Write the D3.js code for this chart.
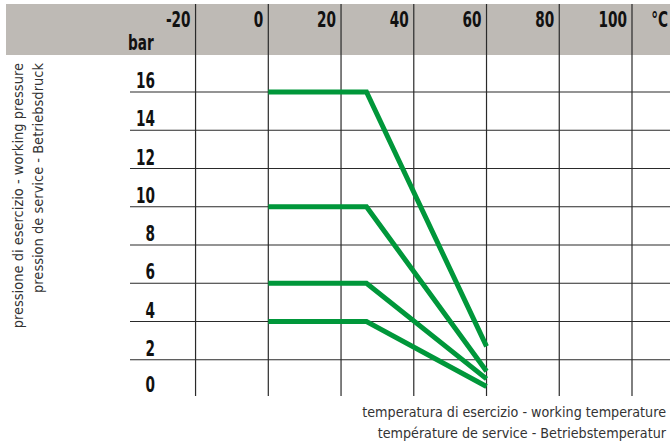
<!DOCTYPE html>
<html><head><meta charset="utf-8">
<script src="https://cdn.jsdelivr.net/npm/d3@7/dist/d3.min.js"></script>
<style>
html,body{margin:0;padding:0;background:#fff;}
svg{display:block;}
</style></head>
<body>
<svg id="c" width="670" height="446"></svg>
<script>
const tempTicks = [-20, 0, 20, 40, 60, 80, 100];
const pressureTicks = [0, 2, 4, 6, 8, 10, 12, 14, 16];
const curveTemps = [0, 27, 60];
const pn16 = [16, 16, 2.7];
const pn10 = [10, 10, 1.4];
const pn6 = [6, 6, 1.0];
const pn4 = [4, 4, 0.6];
const seriesList = [pn16, pn10, pn6, pn4];
const yTitle = ["pressione di esercizio - working pressure", "pression de service - Betriebsdruck"];
const xTitle = ["temperatura di esercizio - working temperature", "température de service - Betriebstemperatur"];

const svg = d3.select("#c");
const x = d3.scaleLinear().domain([0, 100]).range([268.3, 632]);
const y = d3.scaleLinear().domain([0, 16]).range([398, 92]);

const boldFont = "'DejaVu Sans Condensed', 'DejaVu Sans', sans-serif";
const lightFont = "'DejaVu Sans Condensed', 'DejaVu Sans', sans-serif";
const SX = 0.74;

function boldLabel(g, tx, ty, anchor, txt) {
  g.append("text")
    .attr("transform", `translate(${tx},${ty}) scale(${SX},1)`)
    .attr("text-anchor", anchor)
    .attr("font-family", boldFont).attr("font-weight", "bold").attr("font-size", 20.5)
    .attr("fill", "#111").text(txt);
}

// header band
svg.append("rect").attr("x", 6).attr("y", 4).attr("width", 664).attr("height", 51).attr("fill", "#bebab5");

// horizontal grid lines
svg.append("g").selectAll("line").data(pressureTicks.filter(p => p > 0)).join("line")
  .attr("x1", 130).attr("x2", 670)
  .attr("y1", d => y(d)).attr("y2", d => y(d))
  .attr("stroke", "#2a2a2a").attr("stroke-width", 1.2);

// vertical grid lines
svg.append("g").selectAll("line").data(tempTicks).join("line")
  .attr("x1", d => x(d)).attr("x2", d => x(d))
  .attr("y1", 4).attr("y2", 396)
  .attr("stroke", "#2a2a2a").attr("stroke-width", 1.2);

// temperature tick labels
const tg = svg.append("g");
tempTicks.forEach(t => boldLabel(tg, x(t) - 5, 27, "end", t));
boldLabel(tg, 668, 27, "end", "°C");
boldLabel(tg, 128, 50, "start", "bar");

// pressure tick labels
const pg = svg.append("g");
pressureTicks.forEach(p => boldLabel(pg, 155, p === 0 ? y(p) - 6 : y(p) - 4, "end", p));

// curves
const line = d3.line().x((d, i) => x(curveTemps[i])).y(d => y(d));
svg.append("g").selectAll("path").data(seriesList).join("path")
  .attr("d", d => line(d))
  .attr("fill", "none").attr("stroke", "#00973a").attr("stroke-width", 5)
  .attr("stroke-linejoin", "miter").attr("stroke-linecap", "butt");

// y title
const yt = svg.append("g");
yTitle.forEach((t, i) => {
  yt.append("text")
    .attr("transform", `translate(${23 + i * 20},63) rotate(-90)`)
    .attr("text-anchor", "end")
    .attr("font-family", lightFont).attr("font-size", 14.5)
    .attr("fill", "#333")
    .text(t);
});

// x title
xTitle.forEach((t, i) => {
  svg.append("text").attr("x", 666).attr("y", 417 + i * 21)
    .attr("text-anchor", "end")
    .attr("font-family", lightFont).attr("font-size", 14.2)
    .attr("fill", "#333")
    .text(t);
});
</script>
</body></html>
